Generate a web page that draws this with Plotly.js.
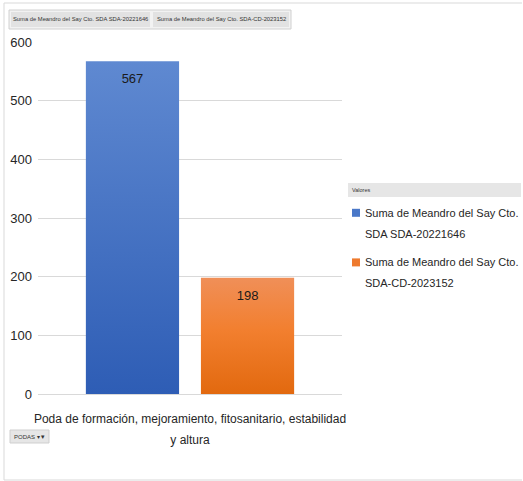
<!DOCTYPE html>
<html>
<head>
<meta charset="utf-8">
<script src="https://cdn.plot.ly/plotly-3.0.1.min.js"></script>
<style>
  html, body { margin: 0; padding: 0; background: #fff; }
  #chart { width: 523px; height: 481px; }
</style>
</head>
<body>
<div id="chart"></div>
<script>
// ---- data ----
const categories = ["Poda de formación, mejoramiento, fitosanitario, estabilidad<br>y altura"];
const seriesNames = [
  "Suma de Meandro del Say Cto.<br>SDA SDA-20221646",
  "Suma de Meandro del Say Cto.<br>SDA-CD-2023152"
];
const fieldLabels = [
  "Suma de Meandro del Say Cto. SDA SDA-20221646",
  "Suma de Meandro del Say Cto. SDA-CD-2023152"
];
const seriesA = [567];
const seriesB = [198];
const yTicks = [0, 100, 200, 300, 400, 500, 600];
const legendTitle = "Valores";
const filterLabel = "PODAS";

// ---- layout helpers ----
const W = 523, H = 481;
const M = { l: 38, r: 181, t: 42, b: 87, autoexpand: false };
const PW = W - M.l - M.r, PH = H - M.t - M.b;
const px = v => (v - M.l) / PW;
const py = v => (H - M.b - v) / PH;

const FONT = '"Liberation Sans", Arial, sans-serif';
const colors = ['#4a78c8', '#ee7a2e'];

const traces = [
  { type: 'bar', x: categories, y: seriesA, name: seriesNames[0], legendgroup: 'a',
    marker: { color: colors[0] }, text: seriesA.map(String),
    textposition: 'inside', insidetextanchor: 'end',
    textfont: { family: FONT, size: 13, color: '#1a1a1a' } },
  { type: 'bar', x: categories, y: seriesB, name: seriesNames[1], legendgroup: 'b',
    marker: { color: colors[1] }, text: seriesB.map(String),
    textposition: 'inside', insidetextanchor: 'end',
    textfont: { family: FONT, size: 13, color: '#1a1a1a' } }
];

const boxShape = (x0, y0, x1, y1, fill, line) => ({
  type: 'rect', xref: 'paper', yref: 'paper', layer: 'below',
  x0: px(x0), x1: px(x1), y0: py(y1), y1: py(y0),
  fillcolor: fill, line: { color: line || fill, width: line ? 1 : 0 }
});
const lineShape = (x0, y0, x1, y1) => ({
  type: 'line', xref: 'paper', yref: 'paper',
  x0: px(x0), x1: px(x1), y0: py(y0), y1: py(y1),
  line: { color: '#d9d9d9', width: 1 }
});
const label = (x, y, text, size, anchor) => ({
  xref: 'paper', yref: 'paper', x: px(x), y: py(y), text: text,
  xanchor: anchor || 'center', yanchor: 'middle', showarrow: false,
  font: { family: FONT, size: size, color: '#333333' }
});

const layout = {
  width: W, height: H,
  margin: M,
  paper_bgcolor: '#ffffff', plot_bgcolor: '#ffffff',
  font: { family: FONT, size: 13, color: '#262626' },
  barmode: 'group', bargap: 0.243, bargroupgap: 0.19,
  showlegend: true,
  xaxis: { showgrid: false, showline: false, ticks: '', zeroline: false,
           automargin: false, ticklabelstandoff: 16,
           tickfont: { family: FONT, size: 12, color: '#262626' } },
  yaxis: { range: [0, 600], tickvals: yTicks, ticktext: yTicks.map(String),
           showgrid: true, gridcolor: '#d9d9d9', gridwidth: 1,
           zeroline: true, zerolinecolor: '#d9d9d9', zerolinewidth: 1,
           showline: false, ticks: '', automargin: false, ticklabelstandoff: 5,
           tickfont: { family: FONT, size: 13, color: '#262626' } },
  legend: {
    x: px(336), xanchor: 'left', y: py(192), yanchor: 'top',
    font: { family: FONT, size: 11, color: '#262626' },
    bgcolor: 'rgba(0,0,0,0)', tracegroupgap: 18, traceorder: 'grouped'
  },
  shapes: [
    // outer border
    lineShape(4, 3, 522, 3), lineShape(4, 480, 522, 480), lineShape(4, 3, 4, 480),
    // field buttons bar
    boxShape(9, 10, 291, 29, '#f2f2f2', '#d0d0d0'),
    boxShape(11, 12, 150, 27, '#e2e2e2', null),
    boxShape(153, 12, 289, 27, '#e2e2e2', null),
    // legend header
    boxShape(348, 183, 521, 197, '#e6e6e6', null),
    // filter button
    boxShape(10, 430, 49, 443, '#e6e6e6', '#cfcfcf')
  ],
  annotations: [
    label(80.5, 19.5, fieldLabels[0], 5.8),
    label(221, 19.5, fieldLabels[1], 5.8),
    label(350, 190, legendTitle, 5.5, 'left'),
    label(12, 436.5, filterLabel + ' ▾▼', 6, 'left')
  ]
};

const gradients = [
  [['0%', '#5f89d1'], ['100%', '#2e5db5']],
  [['0%', '#f08f58'], ['45%', '#f27f2f'], ['100%', '#e2690f']]
];

Plotly.newPlot('chart', traces, layout, { displayModeBar: false, staticPlot: true }).then(gd => {
  const NS = 'http://www.w3.org/2000/svg';
  const svg = gd.querySelector('svg.main-svg');
  let defs = svg.querySelector('defs');
  if (!defs) { defs = document.createElementNS(NS, 'defs'); svg.insertBefore(defs, svg.firstChild); }
  gradients.forEach((stops, i) => {
    const g = document.createElementNS(NS, 'linearGradient');
    g.setAttribute('id', 'bargrad' + i);
    g.setAttribute('x1', '0'); g.setAttribute('y1', '0');
    g.setAttribute('x2', '0'); g.setAttribute('y2', '1');
    stops.forEach(([o, c]) => {
      const s = document.createElementNS(NS, 'stop');
      s.setAttribute('offset', o); s.setAttribute('stop-color', c);
      g.appendChild(s);
    });
    defs.appendChild(g);
  });
  gd.querySelectorAll('.barlayer .trace').forEach((tr, i) => {
    tr.querySelectorAll('.point path').forEach(p => { p.style.fill = 'url(#bargrad' + i + ')'; });
    tr.querySelectorAll('text.bartext').forEach(t => {
      t.setAttribute('transform', (t.getAttribute('transform') || '') + ' translate(0,7)');
    });
  });
  // spreadsheet-like legend: small swatch aligned to first line, wider line spacing
  gd.querySelectorAll('.legend [clip-path]').forEach(e => e.removeAttribute('clip-path'));
  gd.querySelectorAll('.legend .legendpoints path').forEach(p => {
    p.setAttribute('d', 'M4,4H-4V-4H4Z');
  });
  gd.querySelectorAll('.legend text.legendtext').forEach(t => {
    t.setAttribute('x', 29); t.setAttribute('y', 4);
    t.querySelectorAll('tspan.line').forEach((ts, k) => {
      ts.setAttribute('x', 29); ts.setAttribute('y', 4); ts.setAttribute('dy', k * 21);
    });
  });
  // wider line spacing for the category label
  gd.querySelectorAll('.xtick text').forEach(t => {
    t.querySelectorAll('tspan.line').forEach((ts, k) => { if (k > 0) ts.setAttribute('dy', k * 21); });
  });
});
</script>
</body>
</html>
